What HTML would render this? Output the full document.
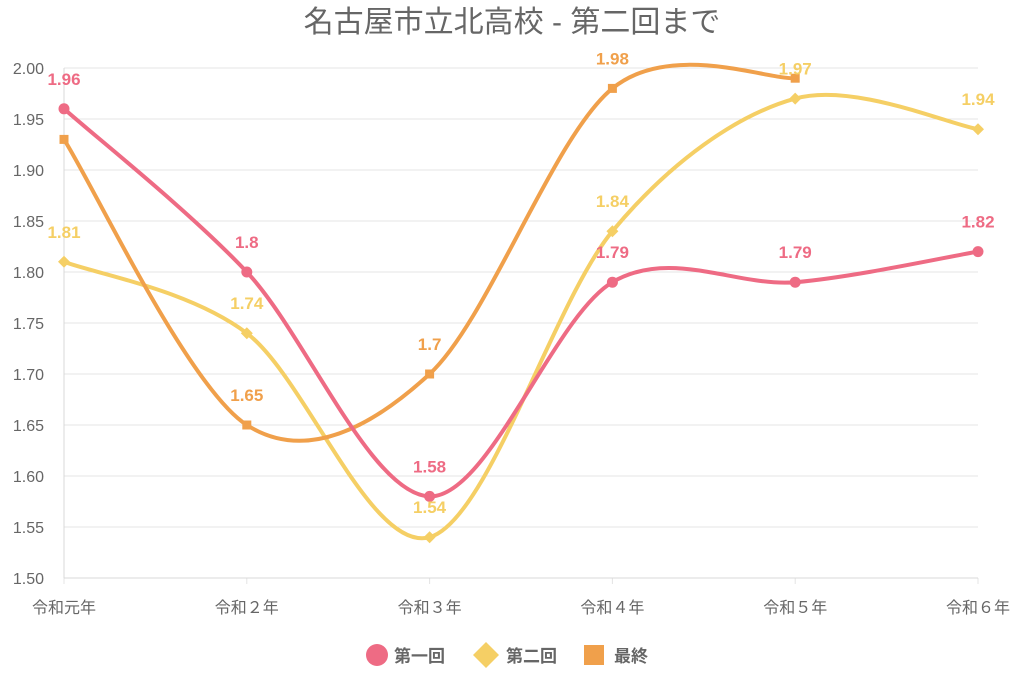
<!DOCTYPE html>
<html><head><meta charset="utf-8">
<style>
body{margin:0;background:#fff;font-family:"Liberation Sans","Noto Sans CJK JP",sans-serif;}
svg{display:block}
</style></head>
<body>
<svg id="chart" width="1024" height="683" xmlns="http://www.w3.org/2000/svg" font-family="Liberation Sans, Noto Sans CJK JP, sans-serif">
<text x="512" y="32" text-anchor="middle" font-size="30" fill="#666">名古屋市立北高校 - 第二回まで</text>
<g id="grid"></g><g id="lines"></g><g id="labels"></g>
<g>
 <g><circle cx="377" cy="655" r="11" fill="#ee6b84"/><text x="394" y="662" font-size="17" font-weight="bold" fill="#666">第一回</text></g>
 <g><polygon points="486,642 499,655 486,668 473,655" fill="#f5cf65"/><text x="506" y="662" font-size="17" font-weight="bold" fill="#666">第二回</text></g>
 <g><rect x="584" y="645" width="20" height="20" fill="#f0a04b"/><text x="614" y="662" font-size="17" font-weight="bold" fill="#666">最終</text></g>
</g>
</svg>
<script>
const categories=["令和元年","令和２年","令和３年","令和４年","令和５年","令和６年"];
const first=[1.96,1.8,1.58,1.79,1.79,1.82];
const second=[1.81,1.74,1.54,1.84,1.97,1.94];
const finalS=[1.93,1.65,1.7,1.98,1.99,null];
const finalLabels=["","1.65","1.7","1.98","",""];
const yTicks=[1.5,1.55,1.6,1.65,1.7,1.75,1.8,1.85,1.9,1.95,2.0];
const NS="http://www.w3.org/2000/svg";
const x0=64,x1=978,yTop=68,yBot=578,yMin=1.5,yMax=2.0;
const xs=i=>x0+i*(x1-x0)/(categories.length-1);
const ys=v=>yBot-(v-yMin)/(yMax-yMin)*(yBot-yTop);
function mk(tag,attrs,parent){const e=document.createElementNS(NS,tag);for(const k in attrs)e.setAttribute(k,attrs[k]);parent.appendChild(e);return e;}
const grid=document.getElementById('grid'),lines=document.getElementById('lines'),labels=document.getElementById('labels');
yTicks.forEach(t=>{
 const l=mk('line',{x1:x0,x2:x1,y1:ys(t),y2:ys(t),stroke:'#e4e4e4','stroke-width':1},grid);
 
 
 const tx=mk('text',{x:44,y:ys(t)+6,'text-anchor':'end','font-size':16,fill:'#666'},grid);
 tx.textContent=t.toFixed(2);
 
 
});
categories.forEach((c,i)=>{
 const l=mk('line',{x1:xs(i),x2:xs(i),y1:yBot,y2:yBot+6,stroke:'#e4e4e4'},grid);
 
 
 const tx=mk('text',{x:xs(i),y:613,'text-anchor':'middle','font-size':16,fill:'#666'},grid);
 tx.textContent=c;
 
 
});
const ax=mk('line',{x1:x0,x2:x0,y1:yTop,y2:yBot,stroke:'#d8d8d8'},grid);


const bx=mk('line',{x1:x0,x2:x1,y1:yBot,y2:yBot,stroke:'#d8d8d8'},grid);


function path(pts){
 const t=0.16;let d=`M${pts[0][0]},${pts[0][1]}`;
 for(let i=0;i<pts.length-1;i++){
  const p0=pts[i-1]||pts[i],p1=pts[i],p2=pts[i+1],p3=pts[i+2]||p2;
  const c1=[p1[0]+(p2[0]-p0[0])*t,p1[1]+(p2[1]-p0[1])*t];
  const c2=[p2[0]-(p3[0]-p1[0])*t,p2[1]-(p3[1]-p1[1])*t];
  d+=` C${c1[0]},${c1[1]} ${c2[0]},${c2[1]} ${p2[0]},${p2[1]}`;
 }
 return d;
}
function series(vals,color,shape,name,labs){
 const pts=[];vals.forEach((v,i)=>{if(v!==null)pts.push([xs(i),ys(v)]);});
 const p=mk('path',{d:path(pts),fill:'none',stroke:color,'stroke-width':4},lines);
 
 
 vals.forEach((v,i)=>{
  if(v===null)return;const x=xs(i),y=ys(v);let m;
  if(shape==='circle')m=mk('circle',{cx:x,cy:y,r:5.5,fill:color},lines);
  else if(shape==='diamond')m=mk('polygon',{points:`${x},${y-6} ${x+6},${y} ${x},${y+6} ${x-6},${y}`,fill:color},lines);
  else m=mk('rect',{x:x-4.5,y:y-4.5,width:9,height:9,fill:color},lines);
  
  
  const lab=labs?labs[i]:String(v);
  if(!lab)return;
  const tx=mk('text',{x:x,y:y-24,'text-anchor':'middle','font-size':17,'font-weight':'bold',fill:color},labels);
  tx.textContent=lab;
  
  
 });
}
series(second,'#f5cf65','diamond','second-round');
series(finalS,'#f0a04b','square','final',finalLabels);
series(first,'#ee6b84','circle','first-round');
</script>
</body></html>
